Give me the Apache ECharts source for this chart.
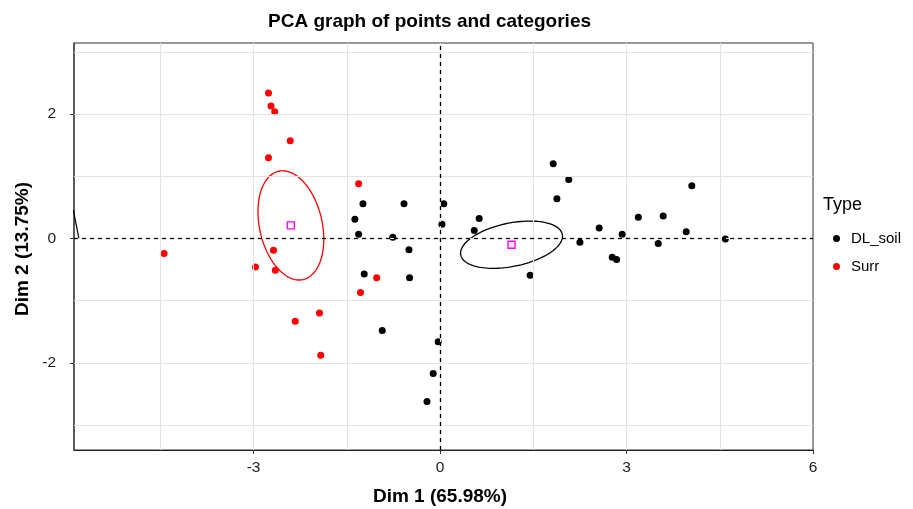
<!DOCTYPE html>
<html>
<head>
<meta charset="utf-8">
<script src="https://cdn.jsdelivr.net/npm/echarts@6/dist/echarts.min.js"></script>
<style>
html,body{margin:0;padding:0;background:#fff}
#chart{width:913px;height:509px}
</style>
</head>
<body>
<div id="chart"></div>
<script>
// individuals (Dim 1, Dim 2)
const dlSoil = [
  [-1.24, 0.56], [-0.58, 0.56], [0.06, 0.56], [-1.37, 0.31], [0.03, 0.23], [-1.31, 0.07],
  [-0.76, 0.02], [-0.50, -0.18], [0.63, 0.32], [0.55, 0.13], [1.82, 1.20], [2.07, 0.95],
  [1.88, 0.64], [4.05, 0.85], [2.56, 0.17], [3.19, 0.34], [3.59, 0.36], [2.93, 0.07],
  [3.96, 0.11], [2.25, -0.06], [3.51, -0.08], [4.59, -0.01], [2.77, -0.30], [2.84, -0.34],
  [1.45, -0.59], [-0.03, -1.66], [-0.11, -2.17], [-0.21, -2.62], [-1.22, -0.57], [-0.49, -0.63],
  [-0.93, -1.48]
];
const surr = [
  [-2.76, 2.34], [-2.72, 2.13], [-2.66, 2.04], [-2.41, 1.57], [-2.76, 1.30], [-1.31, 0.88],
  [-2.68, -0.19], [-4.44, -0.24], [-2.97, -0.46], [-2.65, -0.51], [-1.02, -0.63], [-1.28, -0.87],
  [-1.94, -1.20], [-2.33, -1.33], [-1.92, -1.88]
];
// category centres
const centres = [[-2.40, 0.21], [1.15, -0.10]];
// ellipses: centre x, centre y, semi-major, semi-minor, angle (deg)
const ellipseSurr = [-2.40, 0.21, 0.893, 0.504, 102.7];
const ellipseSoil = [1.15, -0.10, 0.834, 0.349, 11.5];
// bit of an ellipse poking in at the left edge
const edgeLine = [[-5.90, 0.46], [-5.81, 0]];

const xTicks = [-3, 0, 3, 6];
const yTicks = [-2, 0, 2];
const xGrid = [-4.5, -3, -1.5, 0, 1.5, 3, 4.5];
const yGrid = [-3, -2, -1, 0, 1, 2, 3];

const FONT = '"Liberation Sans", Arial, sans-serif';

const chart = echarts.init(document.getElementById('chart'));

function ellipseItem(params, api) {
  const cx = api.value(0), cy = api.value(1), a = api.value(2), b = api.value(3);
  const t = api.value(4) * Math.PI / 180;
  const pts = [];
  for (let k = 0; k <= 120; k++) {
    const u = 2 * Math.PI * k / 120;
    const dx = a * Math.cos(u), dy = b * Math.sin(u);
    pts.push(api.coord([cx + dx * Math.cos(t) - dy * Math.sin(t), cy + dx * Math.sin(t) + dy * Math.cos(t)]));
  }
  return {
    type: 'polyline',
    shape: { points: pts },
    style: { stroke: api.visual('color'), fill: null, lineWidth: 1.3 }
  };
}

const gridLines = [];
xGrid.forEach(v => gridLines.push({ xAxis: v }));
yGrid.forEach(v => gridLines.push({ yAxis: v }));

const zeroStyle = { color: '#000', type: [4, 4], width: 1.3 };

const option = {
  animation: false,
  backgroundColor: '#fff',
  textStyle: { fontFamily: FONT },
  grid: {
    left: 74, right: 100, top: 43, bottom: 59,
    show: true, borderColor: '#333', borderWidth: 1, backgroundColor: 'transparent'
  },
  xAxis: {
    type: 'value', min: -5.889, max: 6.0,
    axisLine: { show: true, onZero: false, lineStyle: { color: '#222', width: 1.2 } },
    splitLine: { show: false },
    axisTick: { show: true, length: 4, lineStyle: { color: '#333' }, customValues: xTicks },
    axisLabel: { customValues: xTicks, color: '#1a1a1a', fontSize: 15.5, margin: 10, fontFamily: FONT }
  },
  yAxis: {
    type: 'value', min: -3.402, max: 3.144,
    axisLine: { show: true, onZero: false, lineStyle: { color: '#444', width: 1.5 } },
    splitLine: { show: false },
    axisTick: { show: true, length: 4, lineStyle: { color: '#333' }, customValues: yTicks },
    axisLabel: { customValues: yTicks, color: '#1a1a1a', fontSize: 15.5, margin: 18, fontFamily: FONT }
  },
  legend: {
    data: ['DL_soil', 'Surr'],
    orient: 'vertical',
    left: 828, top: 226,
    icon: 'circle', itemWidth: 7, itemHeight: 7, itemGap: 13,
    textStyle: { fontSize: 15, color: '#000', fontFamily: FONT, padding: [0, 0, 0, 6] }
  },
  graphic: [
    { type: 'text', left: 268, top: 12, style: { text: 'PCA graph of points and categories', font: 'bold 19px ' + FONT, fill: '#000' } },
    { type: 'text', x: 440, y: 497, style: { text: 'Dim 1 (65.98%)', font: 'bold 19px ' + FONT, fill: '#000', align: 'center', verticalAlign: 'middle' } },
    { type: 'text', x: 23, y: 249, rotation: Math.PI / 2, style: { text: 'Dim 2 (13.75%)', font: 'bold 19px ' + FONT, fill: '#000', align: 'center', verticalAlign: 'middle' } },
    { type: 'text', x: 823, y: 205, style: { text: 'Type', font: '18px ' + FONT, fill: '#000', verticalAlign: 'middle' } }
  ],
  series: [
    {
      name: 'edge', type: 'line', data: edgeLine, symbol: 'none', silent: true, z: 1,
      lineStyle: { color: '#000', width: 1.2 },
      markLine: {
        silent: true, symbol: 'none', label: { show: false },
        lineStyle: { color: '#e3e3e3', type: 'solid', width: 1.1 },
        data: gridLines
      }
    },
    {
      name: 'zero', type: 'line', data: [], symbol: 'none', silent: true, z: 2,
      markLine: {
        silent: true, symbol: 'none', label: { show: false },
        lineStyle: zeroStyle,
        data: [{ xAxis: 0 }, { yAxis: 0 }]
      }
    },
    { name: 'ellSurr', type: 'custom', renderItem: ellipseItem, data: [ellipseSurr], itemStyle: { color: '#ff0000' }, z: 3, silent: true },
    { name: 'ellSoil', type: 'custom', renderItem: ellipseItem, data: [ellipseSoil], itemStyle: { color: '#000000' }, z: 3, silent: true },
    { name: 'DL_soil', type: 'scatter', data: dlSoil, symbolSize: 7, itemStyle: { color: '#000000', opacity: 1 }, z: 4 },
    { name: 'Surr', type: 'scatter', data: surr, symbolSize: 7, itemStyle: { color: '#ff0000', opacity: 1 }, z: 4 },
    {
      name: 'centre', type: 'scatter', data: centres, symbol: 'rect', symbolSize: 7, z: 5,
      itemStyle: { color: 'rgba(0,0,0,0)', borderColor: '#ff00ff', borderWidth: 1.4, opacity: 1 }
    }
  ]
};

chart.setOption(option);
</script>
</body>
</html>
